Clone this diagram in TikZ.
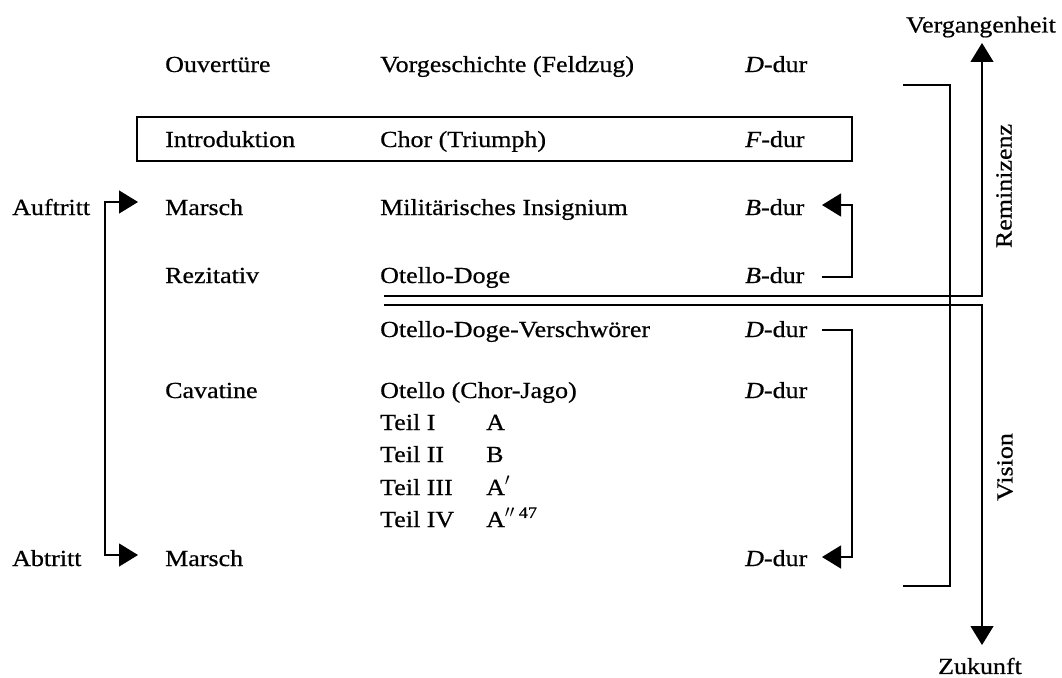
\documentclass[tikz,border=0pt]{standalone}
\usepackage{fontspec}
\setmainfont{Liberation Serif}[FakeStretch=1.13,FakeBold=0.6]
\usetikzlibrary{arrows.meta}
\begin{document}
\begin{tikzpicture}[x=1pt,y=-1pt,
  txt/.style={anchor=base west, inner sep=0pt, font=\fontsize{23}{26}\selectfont},
  lbl/.style={inner sep=0pt, font=\fontsize{23}{26}\selectfont},
  ln/.style={line width=1.3pt},
  tip/.style={-{Triangle[length=19pt,width=23pt]}},
  tipb/.style={{Triangle[length=19pt,width=23pt]}-},
  tips/.style={{Triangle[length=19pt,width=23pt]}-{Triangle[length=19pt,width=23pt]}}]
\useasboundingbox (0,0) rectangle (1062,677);
% column 1
\node[txt] (ouv) at (165,72) {Ouvertüre};
\node[txt] (intro) at (165,147) {Introduktion};
\node[txt] (marsch1) at (165,215) {Marsch};
\node[txt] (rez) at (165,283) {Rezitativ};
\node[txt] (cav) at (165,398) {Cavatine};
\node[txt] (marsch2) at (165,566) {Marsch};
\node[txt] (auf) at (12,215) {Auftritt};
\node[txt] (ab) at (12,566) {Abtritt};
% column 2
\node[txt] (vorg) at (380,72) {Vorgeschichte (Feldzug)};
\node[txt] (chor) at (380,147) {Chor (Triumph)};
\node[txt] (mil) at (380,215) {Militärisches Insignium};
\node[txt] (od) at (380,283) {Otello-Doge};
\node[txt] (odv) at (380,337) {Otello-Doge-Verschwörer};
\node[txt] (ocj) at (380,398) {Otello (Chor-Jago)};
\node[txt] (t1) at (380,430) {Teil I};
\node[txt] (t2) at (380,462) {Teil II};
\node[txt] (t3) at (380,495) {Teil III};
\node[txt] (t4) at (380,527) {Teil IV};
\node[txt] (a1) at (486,430) {A};
\node[txt] (a2) at (486,462) {B};
\node[txt] (a3) at (486,495) {A$'$};
\node[txt] (a4) at (486,527) {A$''$\,\textsuperscript{47}};
% column 3
\node[txt] (k1) at (745,72) {\textit{D}-dur};
\node[txt] (k2) at (745,147) {\textit{F}-dur};
\node[txt] (k3) at (745,215) {\textit{B}-dur};
\node[txt] (k4) at (745,283) {\textit{B}-dur};
\node[txt] (k5) at (745,337) {\textit{D}-dur};
\node[txt] (k6) at (745,398) {\textit{D}-dur};
\node[txt] (k7) at (745,566) {\textit{D}-dur};
% right labels
\node[lbl] (verg) at (981,27) {Vergangenheit};
\node[lbl] (zuk) at (980,666) {Zukunft};
\node[lbl,rotate=90] (rem) at (1004,186) {Reminizenz};
\node[lbl,rotate=90] (vis) at (1005,467) {Vision};
% introduction box
\coordinate (boxA) at (137,117);
\coordinate (boxB) at (852,161);
\draw[ln] (boxA) rectangle (boxB);
% left bracket
\coordinate (aufTip) at (138,202);
\coordinate (abTip) at (138,555);
\draw[ln,tips] (aufTip) -- ++(-33,0) |- (abTip);
% B-dur bracket
\coordinate (bTip) at (822,205);
\coordinate (bEnd) at (822,277);
\draw[ln,tipb] (bTip) -- ++(30,0) |- (bEnd);
% D-dur bracket
\coordinate (dStart) at (822,330);
\coordinate (dTip) at (822,557);
\draw[ln,tip] (dStart) -- ++(30,0) |- (dTip);
% Reminiszenz / Vision bracket
\coordinate (rTop) at (903,85);
\coordinate (rBot) at (903,586);
\draw[ln] (rTop) -- ++(47,0) |- (rBot);
% double line with time arrow
\coordinate (dl1) at (384,296);
\coordinate (dl2) at (384,305);
\coordinate (upTip) at (982,43);
\coordinate (dnTip) at (982,645);
\draw[ln,tip] (dl1) -| (upTip);
\draw[ln,tip] (dl2) -| (dnTip);
\end{tikzpicture}
\end{document}
